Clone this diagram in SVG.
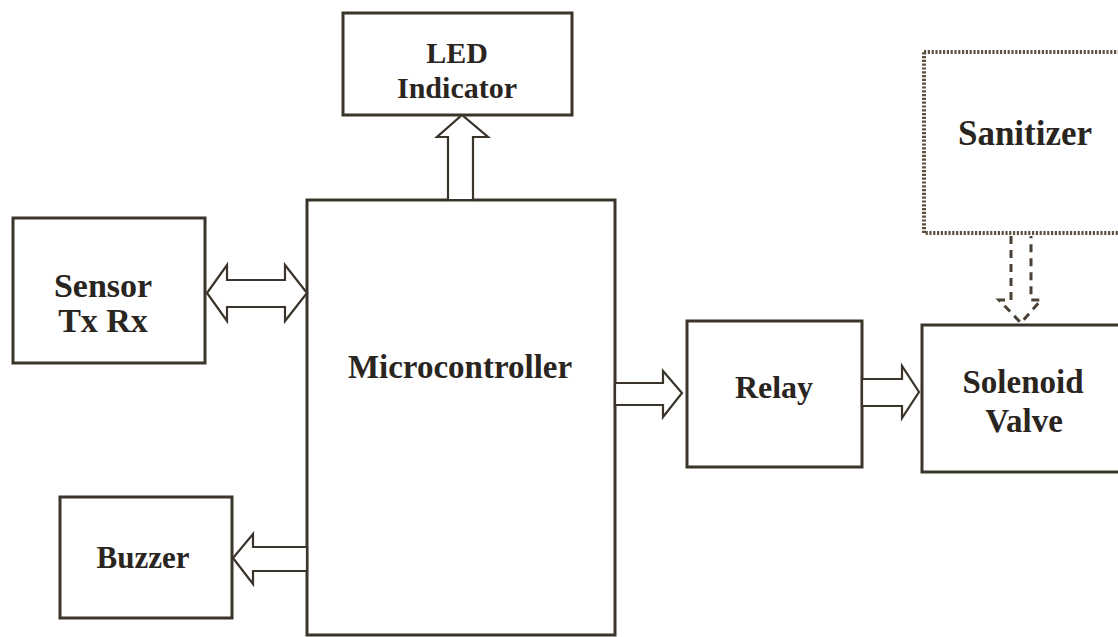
<svg xmlns="http://www.w3.org/2000/svg" width="1118" height="637" viewBox="0 0 1118 637">
<style>
.box{fill:#ffffff;stroke:#3b342b;stroke-width:3}
.dotbox{fill:#ffffff;stroke:#5e5040;stroke-width:4;stroke-dasharray:2.2 1.6}
.arr{fill:#ffffff;stroke:#3b342b;stroke-width:2.2;stroke-linejoin:miter}
.dash{fill:none;stroke:#4a4036;stroke-width:3;stroke-dasharray:8 6}
.lbl{font-family:"Liberation Serif","Times New Roman",serif;font-weight:bold;fill:#2b251f;text-anchor:middle}
</style>
<rect x="0" y="0" width="1118" height="637" fill="#ffffff"/>
<g id="sanitizer">
<rect class="dotbox" x="924" y="52" width="204" height="181"/>
<text class="lbl" x="1025" y="145" font-size="35">Sanitizer</text>
</g>
<g id="led">
<rect class="box" x="343" y="13" width="229" height="102"/>
<text class="lbl" x="457" y="63" font-size="30">LED</text>
<text class="lbl" x="457" y="98" font-size="30">Indicator</text>
</g>
<g id="sensor">
<rect class="box" x="13" y="218" width="192" height="145"/>
<text class="lbl" x="103" y="297" font-size="34">Sensor</text>
<text class="lbl" x="103" y="332" font-size="34">Tx Rx</text>
</g>
<g id="microcontroller">
<rect class="box" x="307" y="200" width="308" height="435"/>
<text class="lbl" x="460" y="378" font-size="33">Microcontroller</text>
</g>
<g id="relay">
<rect class="box" x="687" y="321" width="175" height="146"/>
<text class="lbl" x="774" y="398" font-size="32">Relay</text>
</g>
<g id="solenoid">
<rect class="box" x="922" y="325" width="206" height="147"/>
<text class="lbl" x="1023" y="393" font-size="33">Solenoid</text>
<text class="lbl" x="1024" y="432" font-size="33">Valve</text>
</g>
<g id="buzzer">
<rect class="box" x="60" y="497" width="172" height="121"/>
<text class="lbl" x="143" y="568" font-size="31">Buzzer</text>
</g>
<g id="connectors">
<polygon class="arr" points="448,200 448,137 437,137 462,115 488,137 473,137 473,200"/>
<polygon class="arr" points="207,293 227,265 227,280 285,280 285,265 307,293 285,321 285,307 227,307 227,321"/>
<polygon class="arr" points="615,383 663,383 663,371 682,393 663,417 663,405 615,405"/>
<polygon class="arr" points="862,379 902,379 902,366 919,392 902,418 902,406 862,406"/>
<polygon class="arr" points="307,547 253,547 253,534 233,558 253,584 253,571 307,571"/>
<path class="dash" d="M1011,236 V300 H999 L1021,323 L1041,300 H1031 V236"/>
</g>
</svg>
